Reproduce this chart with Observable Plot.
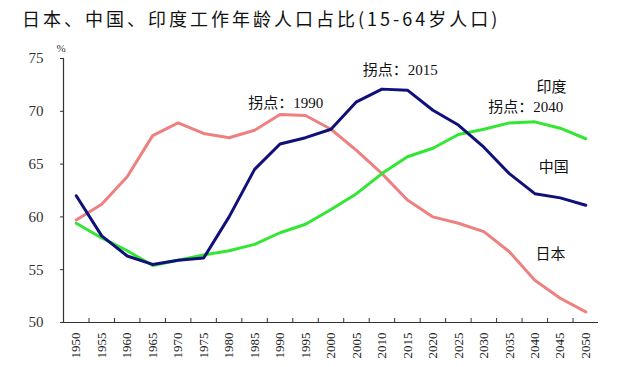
<!DOCTYPE html>
<html>
<head>
<meta charset="utf-8">
<script src="https://cdn.jsdelivr.net/npm/d3@7"></script>
<script src="https://cdn.jsdelivr.net/npm/@observablehq/plot@0.6"></script>
<style>
  html, body { margin: 0; padding: 0; background: #fff; }
  #wrap { width: 638px; height: 367px; position: relative; overflow: hidden; }
  #title { height: 36px; line-height: 36px; padding-left: 22px; font-family: "Noto Sans CJK SC", sans-serif; font-size: 18px; letter-spacing: 3.0px; color: #111; white-space: nowrap; }
</style>
</head>
<body>
<div id="wrap">
  <div id="title">日本、中国、印度工作年龄人口占比(15-64岁人口)</div>
  <div id="chart"></div>
</div>
<script>
const years = [1950,1955,1960,1965,1970,1975,1980,1985,1990,1995,2000,2005,2010,2015,2020,2025,2030,2035,2040,2045,2050];
const japan = [59.7,61.2,63.8,67.7,68.9,67.9,67.5,68.2,69.7,69.6,68.3,66.3,64.1,61.6,60.0,59.4,58.6,56.7,54.0,52.3,51.0];
const china = [62.0,58.2,56.3,55.5,55.9,56.1,60.0,64.5,66.9,67.5,68.3,70.9,72.1,72.0,70.1,68.7,66.6,64.1,62.2,61.8,61.1];
const india = [59.4,58.0,56.8,55.4,55.9,56.4,56.8,57.4,58.5,59.3,60.7,62.2,64.1,65.7,66.5,67.8,68.3,68.9,69.0,68.4,67.4];
const yTicks = [50,55,60,65,70,75];
const notes = [
  {text: "拐点：1990", year: 1991.1, value: 70.8},
  {text: "拐点：2015", year: 2013.6, value: 73.9},
  {text: "印度", year: 2043.3, value: 72.25},
  {text: "拐点：2040", year: 2038.2, value: 70.4},
  {text: "中国", year: 2043.7, value: 64.7},
  {text: "日本", year: 2043.1, value: 56.5}
];

const half = 2.5;
const boundaries = years.slice(1).map(y => y - half);
const rows = (vals, name) => years.map((y, i) => ({year: y, value: vals[i], name}));

const serif = "'Liberation Serif', 'Times New Roman', 'Noto Sans CJK SC', serif";

const chart = Plot.plot({
  width: 638,
  height: 331,
  marginTop: 22,
  marginBottom: 45,
  marginLeft: 63,
  marginRight: 40,
  style: {fontFamily: serif, background: "#fff"},
  x: {domain: [years[0] - half, years[years.length - 1] + half]},
  y: {domain: [50, 75]},
  marks: [
    Plot.ruleY([50], {stroke: "#333", strokeWidth: 1.2}),
    Plot.ruleX([years[0] - half], {stroke: "#333", strokeWidth: 1.2}),
    Plot.axisX({ticks: boundaries, tickSize: -4, tickFormat: () => "", stroke: "#333", label: null}),
    Plot.axisX({ticks: years, tickSize: 0, tickPadding: 10, tickRotate: -90, tickFormat: d => String(d), fontSize: 13, fill: "#222", label: null}),
    Plot.axisY({ticks: yTicks, tickSize: 3, tickPadding: 17, fontSize: 15, fill: "#333", stroke: "#333", label: null}),
    Plot.text(["%"], {frameAnchor: "top-left", dx: -7, dy: -14, fontSize: 11, fill: "#333"}),
    Plot.line(rows(japan, "日本"), {x: "year", y: "value", stroke: "#ee8080", strokeWidth: 3}),
    Plot.line(rows(india, "印度"), {x: "year", y: "value", stroke: "#33e633", strokeWidth: 3}),
    Plot.line(rows(china, "中国"), {x: "year", y: "value", stroke: "#10107a", strokeWidth: 3}),
    Plot.text(notes, {x: "year", y: "value", text: "text", fontSize: 15, fill: "#111"})
  ]
});
document.getElementById("chart").appendChild(chart);
</script>
</body>
</html>
